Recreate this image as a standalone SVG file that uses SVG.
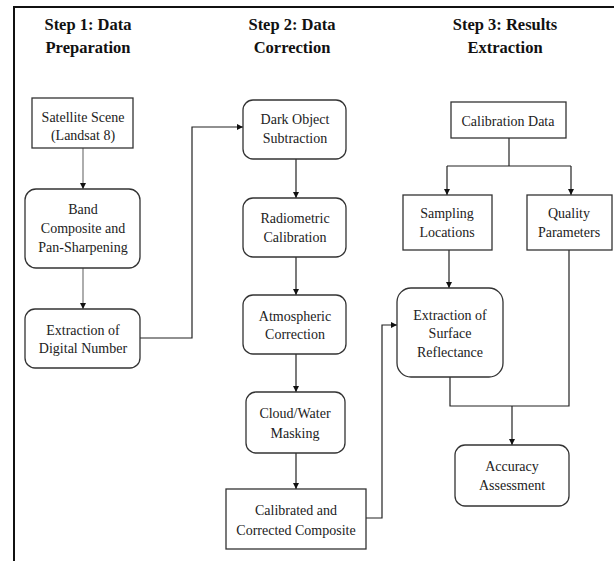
<svg xmlns="http://www.w3.org/2000/svg" width="614" height="561" viewBox="0 0 614 561">
<style>
.box{fill:#fff;stroke:#333;stroke-width:1.3}
text{font-family:'Liberation Serif','DejaVu Serif Condensed','DejaVu Serif',serif;font-stretch:condensed}
.t{font-size:14px;fill:#222;text-anchor:middle}
.h{font-size:16.5px;font-weight:bold;fill:#111;text-anchor:middle}
.c{fill:none;stroke:#222;stroke-width:1.2}
.g{fill:none;stroke:#777;stroke-width:1.2}
</style>
<defs>
<marker id="a" viewBox="0 0 10 10" refX="10" refY="5" markerWidth="6" markerHeight="6" orient="auto" markerUnits="userSpaceOnUse"><path d="M0,0L10,5L0,10z" fill="#111"/></marker>
</defs>
<rect width="614" height="561" fill="#fff"/>
<path d="M14,561V7H614" fill="none" stroke="#111" stroke-width="2"/>
<g id="titles">
<text class="h" x="88" y="30">Step 1: Data</text>
<text class="h" x="88" y="53">Preparation</text>
<text class="h" x="292" y="30">Step 2: Data</text>
<text class="h" x="292" y="53">Correction</text>
<text class="h" x="505" y="30">Step 3: Results</text>
<text class="h" x="505" y="53">Extraction</text>
</g>
<g id="connectors">
<path class="g" d="M83,148V189" marker-end="url(#a)"/>
<path class="g" d="M83,268V309" marker-end="url(#a)"/>
<path class="c" d="M140,338H192V127H243" marker-end="url(#a)"/>
<path class="c" d="M296,159V198" marker-end="url(#a)"/>
<path class="c" d="M296,257V295" marker-end="url(#a)"/>
<path class="c" d="M296,354V392" marker-end="url(#a)"/>
<path class="c" d="M296,453V489" marker-end="url(#a)"/>
<path class="c" d="M366,518H382V325H397" marker-end="url(#a)"/>
<path class="c" d="M509,138V166"/>
<path class="c" d="M447,166H571"/>
<path class="c" d="M447,166V195" marker-end="url(#a)"/>
<path class="c" d="M571,166V195" marker-end="url(#a)"/>
<path class="c" d="M449,250V288" marker-end="url(#a)"/>
<path class="c" d="M450,377V406H569V250"/>
<path class="c" d="M512,406V445" marker-end="url(#a)"/>
</g>
<g id="satellite"><rect class="box" x="32" y="98" width="101" height="50"/>
<text class="t" x="83" y="122">Satellite Scene</text><text class="t" x="83" y="140">(Landsat 8)</text></g>
<g id="band"><rect class="box" x="25" y="189" width="115" height="79" rx="11"/>
<text class="t" x="83" y="214">Band</text><text class="t" x="83" y="233">Composite and</text><text class="t" x="83" y="252">Pan-Sharpening</text></g>
<g id="extraction-dn"><rect class="box" x="25" y="309" width="115" height="59" rx="10"/>
<text class="t" x="83" y="335">Extraction of</text><text class="t" x="83" y="353">Digital Number</text></g>
<g id="dark-object"><rect class="box" x="243" y="100" width="103" height="59" rx="10"/>
<text class="t" x="295" y="124">Dark Object</text><text class="t" x="295" y="143">Subtraction</text></g>
<g id="radiometric"><rect class="box" x="243" y="198" width="103" height="59" rx="10"/>
<text class="t" x="295" y="223">Radiometric</text><text class="t" x="295" y="242">Calibration</text></g>
<g id="atmospheric"><rect class="box" x="243" y="295" width="103" height="59" rx="10"/>
<text class="t" x="295" y="321">Atmospheric</text><text class="t" x="295" y="339">Correction</text></g>
<g id="cloud"><rect class="box" x="246" y="392" width="99" height="61" rx="10"/>
<text class="t" x="295" y="418">Cloud/Water</text><text class="t" x="295" y="438">Masking</text></g>
<g id="calibrated"><rect class="box" x="226" y="489" width="140" height="60"/>
<text class="t" x="296" y="515">Calibrated and</text><text class="t" x="296" y="535">Corrected Composite</text></g>
<g id="calibration-data"><rect class="box" x="451" y="102" width="115" height="36"/>
<text class="t" x="508" y="126">Calibration Data</text></g>
<g id="sampling"><rect class="box" x="403" y="195" width="89" height="55"/>
<text class="t" x="447" y="218">Sampling</text><text class="t" x="447" y="237">Locations</text></g>
<g id="quality"><rect class="box" x="527" y="195" width="85" height="55"/>
<text class="t" x="569" y="218">Quality</text><text class="t" x="569" y="237">Parameters</text></g>
<g id="extraction-sr"><rect class="box" x="397" y="288" width="106" height="89" rx="14"/>
<text class="t" x="450" y="320">Extraction of</text><text class="t" x="450" y="338">Surface</text><text class="t" x="450" y="357">Reflectance</text></g>
<g id="accuracy"><rect class="box" x="455" y="445" width="114" height="61" rx="10"/>
<text class="t" x="512" y="471">Accuracy</text><text class="t" x="512" y="490">Assessment</text></g>
</svg>
